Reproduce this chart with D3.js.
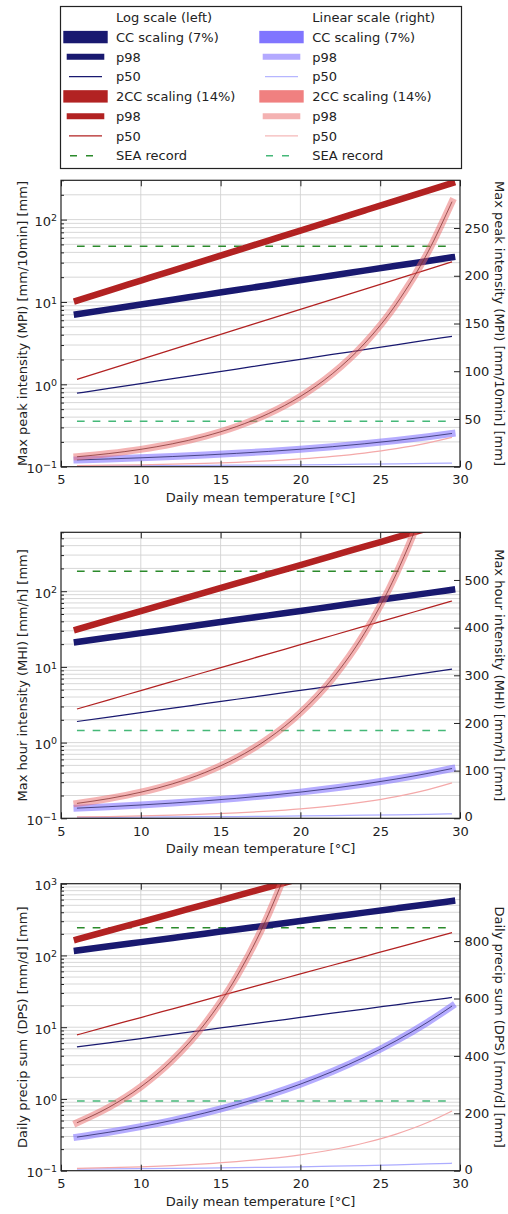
<!DOCTYPE html>
<html>
<head>
<meta charset="utf-8">
<script src="https://cdn.jsdelivr.net/npm/d3@7"></script>
<style>
  html, body { margin: 0; padding: 0; background: #fff; }
  svg { display: block; font-family: "DejaVu Sans", sans-serif; }
</style>
</head>
<body>
<svg id="chart" width="508" height="1214"></svg>
<script>
// Daily mean temperature (°C) at which each scaling curve is evaluated
const temps = [6, 8, 10, 12, 14, 16, 18, 20, 22, 24, 26, 28, 29.5];

// Max peak intensity (MPI), mm/10min
const mpiCC98  = [7.1, 8.13, 9.31, 10.66, 12.2, 13.97, 15.99, 18.31, 20.96, 24.0, 27.48, 31.46, 34.82];
const mpiCC50  = [0.78, 0.893, 1.022, 1.171, 1.34, 1.534, 1.757, 2.011, 2.303, 2.636, 3.018, 3.456, 3.825];
const mpi2CC98 = [10.4, 13.75, 18.19, 24.06, 31.81, 42.07, 55.64, 73.59, 97.32, 128.7, 170.2, 225.1, 277.6];
const mpi2CC50 = [1.15, 1.521, 2.011, 2.66, 3.518, 4.652, 6.153, 8.137, 10.76, 14.23, 18.82, 24.89, 30.7];

// Max hour intensity (MHI), mm/h
const mhiCC98  = [21.3, 24.39, 27.92, 31.97, 36.6, 41.9, 47.97, 54.92, 62.88, 71.99, 82.42, 94.37, 104.4];
const mhiCC50  = [1.9, 2.175, 2.491, 2.851, 3.265, 3.738, 4.279, 4.899, 5.609, 6.422, 7.353, 8.418, 9.317];
const mhi2CC98 = [31.3, 41.39, 54.74, 72.4, 95.75, 126.6, 167.5, 221.5, 292.9, 387.3, 512.3, 677.5, 835.5];
const mhi2CC50 = [2.78, 3.677, 4.862, 6.43, 8.504, 11.25, 14.87, 19.67, 26.01, 34.4, 45.5, 60.17, 74.2];

// Daily precip sum (DPS), mm/d
const dpsCC98  = [117, 134.0, 153.4, 175.6, 201.0, 230.2, 263.5, 301.7, 345.4, 395.5, 452.8, 518.4, 573.7];
const dpsCC50  = [5.3, 6.068, 6.947, 7.954, 9.106, 10.43, 11.94, 13.67, 15.65, 17.91, 20.51, 23.48, 25.99];
const dps2CC98 = [167, 220.9, 292.1, 386.3, 510.9, 675.6, 893.5, 1181.6, 1562.7, 2066.7, 2733.2, 3614.7, 4457.6];
const dps2CC50 = [7.8, 10.32, 13.64, 18.04, 23.86, 31.56, 41.73, 55.19, 72.99, 96.53, 127.7, 168.8, 208.2];

// Southeast Asia record values (MPI, MHI, DPS)
const seaRecord = [47.5, 184, 243];

// Axis extents and tick labels
const yMax = [300, 600, 1000];
const xTicks = [5, 10, 15, 20, 25, 30];
const rightTicksMPI = [0, 50, 100, 150, 200, 250];
const rightTicksMHI = [0, 100, 200, 300, 400, 500];
const rightTicksDPS = [0, 200, 400, 600, 800];
const axisLabels = [
  "Max peak intensity (MPI) [mm/10min] [mm]",
  "Max hour intensity (MHI) [mm/h] [mm]",
  "Daily precip sum (DPS) [mm/d] [mm]"
];
const xLabel = "Daily mean temperature [°C]";

// Legend text
const legendHeaders = ["Log scale (left)", "Linear scale (right)"];
const legendLabels = ["CC scaling (7%)", "p98", "p50", "2CC scaling (14%)", "p98", "p50", "SEA record"];

// ---------------------------------------------------------------------------
const svg = d3.select("#chart");
const ink = "#222";

const col = {
  logCC: "#191970", log2CC: "#b22222", logSea: "#2b8a2b",
  linCCBand: "#7868ff", lin2CCBand: "#ea6868",
  linCC50: "#acacff", lin2CC50: "#f4a9a9", linSea: "#45b878",
  linCCCore: "#1d1d55", lin2CCCore: "#7a2a2a"
};

const panels = [
  { cc98: mpiCC98, cc50: mpiCC50, dc98: mpi2CC98, dc50: mpi2CC50, sea: seaRecord[0], yMax: yMax[0], rTicks: rightTicksMPI, label: axisLabels[0] },
  { cc98: mhiCC98, cc50: mhiCC50, dc98: mhi2CC98, dc50: mhi2CC50, sea: seaRecord[1], yMax: yMax[1], rTicks: rightTicksMHI, label: axisLabels[1] },
  { cc98: dpsCC98, cc50: dpsCC50, dc98: dps2CC98, dc50: dps2CC50, sea: seaRecord[2], yMax: yMax[2], rTicks: rightTicksDPS, label: axisLabels[2] }
];

const frames = [
  { top: 180.3, bottom: 466.7 },
  { top: 532.3, bottom: 818.3 },
  { top: 883.7, bottom: 1170.7 }
];
const plotLeft = 61, plotRight = 460;

const supDigits = s => s.replace("-", "\u2212");

panels.forEach((p, i) => {
  const f = frames[i];
  const g = svg.append("g");
  const x = d3.scaleLinear().domain([5, 30]).range([plotLeft, plotRight]);
  const yL = d3.scaleLog().domain([0.1, p.yMax]).range([f.bottom, f.top]);
  const yR = d3.scaleLinear().domain([0, p.yMax]).range([f.bottom, f.top]);

  const clipId = "clip" + i;
  svg.append("clipPath").attr("id", clipId)
    .append("rect")
    .attr("x", plotLeft).attr("y", f.top)
    .attr("width", plotRight - plotLeft).attr("height", f.bottom - f.top);

  // grid: every log tick (major and minor) and the inner x ticks
  const logTicks = yL.ticks().filter(v => v > 0.1001 && v < p.yMax * 0.999);
  g.append("g").selectAll("line").data(logTicks).join("line")
    .attr("x1", plotLeft).attr("x2", plotRight)
    .attr("y1", d => yL(d)).attr("y2", d => yL(d))
    .attr("stroke", "#d2d2d2").attr("stroke-width", 0.9);
  g.append("g").selectAll("line").data(xTicks.slice(1, -1)).join("line")
    .attr("x1", d => x(d)).attr("x2", d => x(d))
    .attr("y1", f.top).attr("y2", f.bottom)
    .attr("stroke", "#d2d2d2").attr("stroke-width", 0.9);

  const pts = s => d3.zip(temps, s);
  const lineL = d3.line().x(d => x(d[0])).y(d => yL(d[1])).curve(d3.curveMonotoneX);
  const lineR = d3.line().x(d => x(d[0])).y(d => yR(d[1])).curve(d3.curveMonotoneX);
  const seaPts = [[6, p.sea], [29.5, p.sea]];

  const marks = g.append("g").attr("clip-path", `url(#${clipId})`);

  // log-scale series (left axis)
  marks.append("path").attr("d", lineL(seaPts))
    .attr("fill", "none").attr("stroke", col.logSea).attr("stroke-width", 1.5)
    .attr("stroke-dasharray", "7.7,8");
  marks.append("path").attr("d", lineL(pts(p.cc98)))
    .attr("fill", "none").attr("stroke", col.logCC).attr("stroke-width", 6.5).attr("stroke-linecap", "square");
  marks.append("path").attr("d", lineL(pts(p.cc50)))
    .attr("fill", "none").attr("stroke", col.logCC).attr("stroke-width", 1.25);
  marks.append("path").attr("d", lineL(pts(p.dc98)))
    .attr("fill", "none").attr("stroke", col.log2CC).attr("stroke-width", 6.5).attr("stroke-linecap", "square");
  marks.append("path").attr("d", lineL(pts(p.dc50)))
    .attr("fill", "none").attr("stroke", col.log2CC).attr("stroke-width", 1.25);

  // linear-scale series (right axis)
  marks.append("path").attr("d", lineR(seaPts))
    .attr("fill", "none").attr("stroke", col.linSea).attr("stroke-width", 1.5)
    .attr("stroke-dasharray", "7.7,8");
  marks.append("path").attr("d", lineR(pts(p.cc98)))
    .attr("fill", "none").attr("stroke", col.linCCBand).attr("stroke-opacity", 0.55)
    .attr("stroke-width", 7).attr("stroke-linecap", "square");
  marks.append("path").attr("d", lineR(pts(p.cc98)))
    .attr("fill", "none").attr("stroke", col.linCCCore).attr("stroke-opacity", 0.8).attr("stroke-width", 0.9);
  marks.append("path").attr("d", lineR(pts(p.cc50)))
    .attr("fill", "none").attr("stroke", col.linCC50).attr("stroke-width", 1.25);
  marks.append("path").attr("d", lineR(pts(p.dc98)))
    .attr("fill", "none").attr("stroke", col.lin2CCBand).attr("stroke-opacity", 0.5)
    .attr("stroke-width", 7).attr("stroke-linecap", "square");
  marks.append("path").attr("d", lineR(pts(p.dc98)))
    .attr("fill", "none").attr("stroke", col.lin2CCCore).attr("stroke-opacity", 0.8).attr("stroke-width", 0.9);
  marks.append("path").attr("d", lineR(pts(p.dc50)))
    .attr("fill", "none").attr("stroke", col.lin2CC50).attr("stroke-width", 1.25);

  // axes (ticks point inward)
  const styleAxis = sel => {
    sel.select(".domain").remove();
    sel.selectAll("line").attr("stroke", ink);
    sel.selectAll("text").attr("fill", ink).attr("font-size", 13).attr("font-family", "DejaVu Sans, sans-serif");
  };
  g.append("g").attr("transform", `translate(0,${f.bottom})`)
    .call(d3.axisBottom(x).tickValues(xTicks).tickSizeInner(-6).tickSizeOuter(0).tickPadding(8.5))
    .call(styleAxis);
  g.append("g").attr("transform", `translate(0,${f.top})`)
    .call(d3.axisTop(x).tickValues(xTicks).tickSizeInner(-6).tickSizeOuter(0).tickFormat(""))
    .call(styleAxis);

  const decades = d3.range(-1, Math.floor(Math.log10(p.yMax) + 1e-9) + 1).map(e => Math.pow(10, e));
  const minors = yL.ticks().filter(v => !decades.some(d => Math.abs(v / d - 1) < 1e-6));
  g.append("g").attr("transform", `translate(${plotLeft},0)`)
    .call(d3.axisLeft(yL).tickValues(minors).tickSizeInner(-3).tickSizeOuter(0).tickFormat(""))
    .call(styleAxis);
  const left = g.append("g").attr("transform", `translate(${plotLeft},0)`)
    .call(d3.axisLeft(yL).tickValues(decades).tickSizeInner(-6).tickSizeOuter(0).tickPadding(4))
    .call(styleAxis);
  left.selectAll("text").attr("dy", "0.45em").each(function (d) {
    const t = d3.select(this).text("");
    t.append("tspan").text("10");
    t.append("tspan").attr("dy", "-0.5em").attr("font-size", 9.5)
      .text(supDigits(String(Math.round(Math.log10(d)))));
  });

  const right = g.append("g").attr("transform", `translate(${plotRight},0)`)
    .call(d3.axisRight(yR).tickValues(p.rTicks).tickSizeInner(-6).tickSizeOuter(0).tickPadding(4.5))
    .call(styleAxis);
  right.selectAll("text").filter(d => d === 0).attr("dy", "0.2em");

  // frame
  g.append("rect")
    .attr("x", plotLeft).attr("y", f.top)
    .attr("width", plotRight - plotLeft).attr("height", f.bottom - f.top)
    .attr("fill", "none").attr("stroke", ink).attr("stroke-width", 1.2);

  // axis titles
  const midY = (f.top + f.bottom) / 2;
  g.append("text")
    .attr("transform", `translate(22.5,${midY}) rotate(-90)`)
    .attr("text-anchor", "middle").attr("dy", "0.35em")
    .attr("font-size", 13).attr("fill", ink).text(p.label);
  g.append("text")
    .attr("transform", `translate(500,${midY}) rotate(90)`)
    .attr("text-anchor", "middle").attr("dy", "0.35em")
    .attr("font-size", 13).attr("fill", ink).text(p.label);
  g.append("text")
    .attr("x", (plotLeft + plotRight) / 2).attr("y", f.bottom + 35)
    .attr("text-anchor", "middle")
    .attr("font-size", 13).attr("fill", ink).text(xLabel);
});

// ---------------------------------------------------------------------------
// legend
const lg = svg.append("g");
lg.append("rect").attr("x", 60.5).attr("y", 6.5).attr("width", 401).attr("height", 162)
  .attr("fill", "#fff").attr("stroke", ink).attr("stroke-width", 1.2);

const rowY = i => 17.3 + i * 19.77;
const columns = [
  { dx: 0, textX: 116, colors: [col.logCC, col.logCC, col.logCC, col.log2CC, col.log2CC, col.log2CC, col.logSea] },
  { dx: 196, textX: 312.3, colors: ["#8075ff", "#b3a9ff", "#b6b6ff", "#f08080", "#f4b2b2", "#f5b8b8", col.linSea] }
];
const kinds = ["patch", "thick", "thin", "patch", "thick", "thin", "dash"];

columns.forEach((c, ci) => {
  lg.append("text").attr("x", c.textX).attr("y", rowY(0)).attr("dy", "0.36em")
    .attr("font-size", 13).attr("fill", ink).text(legendHeaders[ci]);
  legendLabels.forEach((lab, k) => {
    const y = rowY(k + 1);
    const kind = kinds[k];
    const color = c.colors[k];
    if (kind === "patch") {
      lg.append("rect").attr("x", 63.3 + c.dx).attr("y", y - 6.2).attr("width", 44.4).attr("height", 12.4)
        .attr("fill", color);
    } else if (kind === "thick") {
      lg.append("line").attr("x1", 66.7 + c.dx).attr("x2", 104.3 + c.dx).attr("y1", y).attr("y2", y)
        .attr("stroke", color).attr("stroke-width", 6);
    } else if (kind === "thin") {
      lg.append("line").attr("x1", 69 + c.dx).attr("x2", 102 + c.dx).attr("y1", y).attr("y2", y)
        .attr("stroke", color).attr("stroke-width", 1.3);
    } else {
      lg.append("line").attr("x1", 70 + c.dx).attr("x2", 93 + c.dx).attr("y1", y).attr("y2", y)
        .attr("stroke", color).attr("stroke-width", 1.5).attr("stroke-dasharray", "7,9");
    }
    lg.append("text").attr("x", c.textX).attr("y", y).attr("dy", "0.36em")
      .attr("font-size", 13).attr("fill", ink).text(lab);
  });
});
</script>
</body>
</html>
